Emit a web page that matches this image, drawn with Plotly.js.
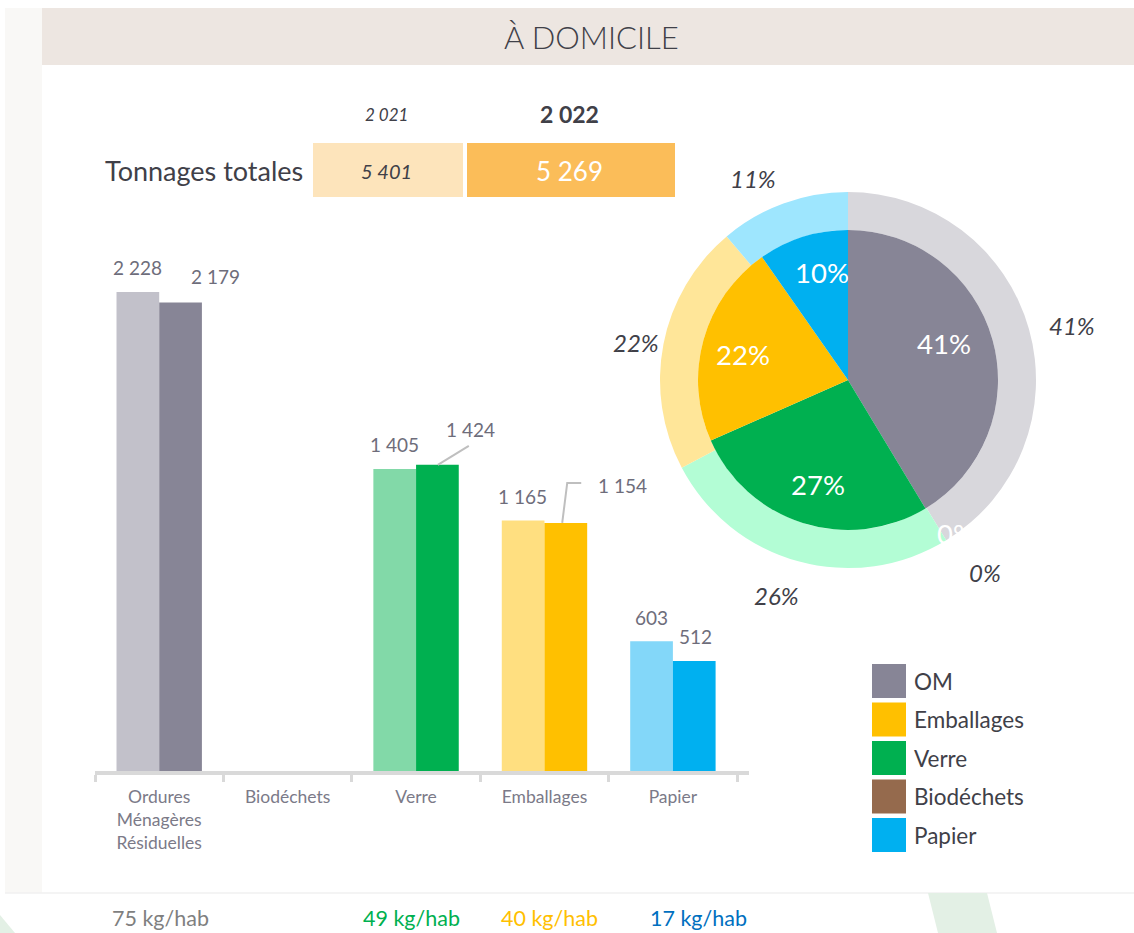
<!DOCTYPE html>
<html>
<head>
<meta charset="utf-8">
<script src="https://cdn.plot.ly/plotly-3.0.1.min.js"></script>
<style>html,body{margin:0;padding:0;background:#fff;}#chart{width:1134px;height:933px;}</style>
</head>
<body>
<div id="chart"></div>
<script>
// ---------- DATA ----------
const categories = ['Ordures<br>Ménagères<br>Résiduelles', 'Biodéchets', 'Verre', 'Emballages', 'Papier'];
const pieLabels = ['OM', 'Biodéchets', 'Verre', 'Emballages', 'Papier'];
const tons2021 = [2228, 0, 1405, 1165, 603];
const tons2022 = [2179, 0, 1424, 1154, 512];
const yearLabels = ['2 021', '2 022'];
const kgHab = [75, null, 49, 40, 17];
const legendLabels = ['OM', 'Emballages', 'Verre', 'Biodéchets', 'Papier'];
const titleText = 'À DOMICILE';
const tableLabel = 'Tonnages totales';

// ---------- STYLE ----------
const W = 1134, H = 933;
const FONT = 'Lato, "Open Sans", sans-serif';
const colors2021 = ['#c2c1ca', '#c9a98f', '#82d9a8', '#ffdf80', '#83d7f9'];
const colors2022 = ['#878596', '#956a4d', '#00b050', '#ffc000', '#00b0f0'];
const outerColors = ['#d8d7dc', '#c9a98f', '#b3fdd5', '#ffe699', '#9ee6fe'];
const legendColors = ['#878596', '#ffc000', '#00b050', '#956a4d', '#00b0f0'];
const kgColors = ['#7f7f7f', '#7f7f7f', '#00b050', '#ffc000', '#0070c0'];
const kgShift = [1.6, 0, -4.8, 5.4, 25.6];
const lab2022Shift = [[35, 26], [0, 0], [33, 35], [56, 37], [1, 24]];
// label placement tweaks (degrees / pixels)
const innerAngShift = [-5.4, -4, -1.7, -2.2, 4];
const innerRad = [103, 188, 109, 108, 111];
const outerAngShift = [2, -4, 3, -1, -5];
const outerRad = [231, 236, 227, 215, 223];
const dark = '#404048';
const labelColor = '#6e6d7b';

const px = x => x / W;
const py = y => 1 - y / H;
const fmt = n => String(n).replace(/\B(?=(\d{3})+(?!\d))/g, ' ');

// bar area geometry
const baseY = 771, topY = 230, pxPerUnit = 0.215;
const axL = 95, axR = 749;
const BARGAP = 0.335;
const barOff = ((axR - axL) / 5) * (1 - BARGAP) / 4;

// pie geometry
const cx = 848, cy = 380, Ro = 188, Ri = 150;

const traces = [
  {type: 'bar', x: categories, y: tons2021, marker: {color: colors2021}, hoverinfo: 'none', name: '2021'},
  {type: 'bar', x: categories, y: tons2022, marker: {color: colors2022}, hoverinfo: 'none', name: '2022'},
  {type: 'pie', values: tons2021, labels: pieLabels, hole: Ri / Ro, sort: false, direction: 'clockwise', rotation: 0,
   domain: {x: [px(cx - Ro), px(cx + Ro)], y: [py(cy + Ro), py(cy - Ro)]},
   marker: {colors: outerColors, line: {width: 0}}, textinfo: 'none', hoverinfo: 'none', showlegend: false},
  {type: 'pie', values: tons2022, labels: pieLabels, sort: false, direction: 'clockwise', rotation: 0,
   domain: {x: [px(cx - Ri), px(cx + Ri)], y: [py(cy + Ri), py(cy - Ri)]},
   marker: {colors: colors2022, line: {width: 0}}, textinfo: 'none', hoverinfo: 'none', showlegend: false}
];

const shapes = [];
const annotations = [];

// background decorations
shapes.push({type: 'rect', xref: 'paper', yref: 'paper', x0: px(5), x1: px(42), y0: py(893), y1: py(8), fillcolor: '#f9f8f6', line: {width: 0}, layer: 'below'});
shapes.push({type: 'rect', xref: 'paper', yref: 'paper', x0: px(42), x1: px(1134), y0: py(65), y1: py(8), fillcolor: '#ede6e1', line: {width: 0}, layer: 'below'});
shapes.push({type: 'line', xref: 'paper', yref: 'paper', x0: px(5), x1: px(1134), y0: py(893), y1: py(893), line: {color: '#f0f0f0', width: 1.5}, layer: 'below'});
shapes.push({type: 'path', xref: 'paper', yref: 'paper', layer: 'below', fillcolor: '#e3f0e5', line: {width: 0},
  path: `M${px(928)},${py(893)} L${px(987)},${py(893)} L${px(997)},${py(933)} L${px(938)},${py(933)} Z`});
shapes.push({type: 'path', xref: 'paper', yref: 'paper', layer: 'below', fillcolor: '#e3f0e5', line: {width: 0},
  path: `M${px(0)},${py(915)} L${px(15)},${py(933)} L${px(0)},${py(933)} Z`});

// title
annotations.push({xref: 'paper', yref: 'paper', x: px(591), y: py(37), text: titleText, showarrow: false,
  font: {family: FONT, size: 31, color: dark, weight: 300}, xanchor: 'center', yanchor: 'middle'});

// tonnage table
const total2021 = tons2021.reduce((a, b) => a + b, 0);
const total2022 = tons2022.reduce((a, b) => a + b, 0);
shapes.push({type: 'rect', xref: 'paper', yref: 'paper', x0: px(313), x1: px(463), y0: py(197), y1: py(143), fillcolor: '#fde4bb', line: {width: 0}, layer: 'below'});
shapes.push({type: 'rect', xref: 'paper', yref: 'paper', x0: px(467), x1: px(675), y0: py(197), y1: py(143), fillcolor: '#fbbd59', line: {width: 0}, layer: 'below'});
annotations.push({xref: 'paper', yref: 'paper', x: px(305), y: py(171), text: tableLabel, showarrow: false, xanchor: 'right', yanchor: 'middle',
  font: {family: FONT, size: 27, color: dark}});
annotations.push({xref: 'paper', yref: 'paper', x: px(386), y: py(171), text: '<i>' + fmt(total2021) + '</i>', showarrow: false,
  xanchor: 'center', yanchor: 'middle', font: {family: FONT, size: 20, color: dark}});
annotations.push({xref: 'paper', yref: 'paper', x: px(569), y: py(171), text: fmt(total2022), showarrow: false,
  xanchor: 'center', yanchor: 'middle', font: {family: FONT, size: 26, color: '#ffffff'}});
annotations.push({xref: 'paper', yref: 'paper', x: px(386), y: py(114), text: '<i>' + yearLabels[0] + '</i>', showarrow: false,
  xanchor: 'center', yanchor: 'middle', font: {family: FONT, size: 17, color: dark}});
annotations.push({xref: 'paper', yref: 'paper', x: px(569), y: py(114), text: '<b>' + yearLabels[1] + '</b>', showarrow: false,
  xanchor: 'center', yanchor: 'middle', font: {family: FONT, size: 23, color: dark}});

// bar labels
categories.forEach((c, i) => {
  if (tons2021[i] > 0) {
    annotations.push({x: c, y: tons2021[i], xref: 'x', yref: 'y', text: fmt(tons2021[i]), showarrow: false,
      xshift: -barOff, yshift: 24, yanchor: 'middle', font: {family: FONT, size: 19, color: labelColor}});
  }
  if (tons2022[i] > 0) {
    annotations.push({x: c, y: tons2022[i], xref: 'x', yref: 'y', text: fmt(tons2022[i]), showarrow: false,
      xshift: barOff + lab2022Shift[i][0], yshift: lab2022Shift[i][1], yanchor: 'middle', font: {family: FONT, size: 19, color: labelColor}});
  }
});
// leader lines
shapes.push({type: 'path', xref: 'x', yref: 'y', xsizemode: 'pixel', ysizemode: 'pixel', xanchor: categories[2], yanchor: tons2022[2],
  path: `M${barOff},0 L${barOff + 31},19`, line: {color: '#bfbfbf', width: 2}});
shapes.push({type: 'path', xref: 'x', yref: 'y', xsizemode: 'pixel', ysizemode: 'pixel', xanchor: categories[3], yanchor: tons2022[3],
  path: `M${barOff - 4},0 L${barOff + 1},40 L${barOff + 15},40`, line: {color: '#bfbfbf', width: 2}});

// kg/hab
categories.forEach((c, i) => {
  if (kgHab[i] != null) {
    annotations.push({x: c, xref: 'x', yref: 'paper', y: py(918), text: kgHab[i] + ' kg/hab', showarrow: false,
      xshift: kgShift[i], yanchor: 'middle', font: {family: FONT, size: 21.5, color: kgColors[i]}});
  }
});

// pie labels
function pieLabelsAnn(vals, radii, fontSpec, italic, angShift) {
  const sum = vals.reduce((a, b) => a + b, 0);
  let cum = 0;
  vals.forEach((v, i) => {
    const f = v / sum;
    const mid = (cum + f / 2) * 2 * Math.PI + angShift[i] * Math.PI / 180;
    cum += f;
    const r = radii[i];
    const x = cx + r * Math.sin(mid), y = cy - r * Math.cos(mid);
    const t = Math.round(f * 100) + '%';
    annotations.push({xref: 'paper', yref: 'paper', x: px(x), y: py(y), text: italic ? '<i>' + t + '</i>' : t,
      showarrow: false, xanchor: 'center', yanchor: 'middle', font: fontSpec});
  });
}
pieLabelsAnn(tons2022, innerRad, {family: FONT, size: 27.5, color: '#ffffff'}, false, innerAngShift);
pieLabelsAnn(tons2021, outerRad, {family: FONT, size: 24, color: dark}, true, outerAngShift);

// legend
legendLabels.forEach((l, i) => {
  const yc = 681 + i * 38.5;
  shapes.push({type: 'rect', xref: 'paper', yref: 'paper', x0: px(872), x1: px(906), y0: py(yc + 17), y1: py(yc - 17),
    fillcolor: legendColors[i], line: {width: 0}});
  annotations.push({xref: 'paper', yref: 'paper', x: px(912), y: py(yc), text: l, showarrow: false, xanchor: 'left', yanchor: 'middle',
    font: {family: FONT, size: 22.5, color: dark}});
});

const layout = {
  width: W, height: H, autosize: false,
  margin: {l: 0, r: 0, t: 0, b: 0},
  paper_bgcolor: '#ffffff', plot_bgcolor: 'rgba(0,0,0,0)',
  showlegend: false, barmode: 'group', bargap: BARGAP, bargroupgap: 0,
  xaxis: {domain: [px(axL), px(axR)], type: 'category', showline: true, linecolor: '#d9d9d9', linewidth: 4,
    ticks: 'outside', tickson: 'boundaries', ticklen: 7, tickwidth: 3, tickcolor: '#d9d9d9', ticklabelstandoff: 7,
    tickfont: {family: FONT, size: 17.5, color: '#7b7a88'}, showgrid: false, zeroline: false, fixedrange: true},
  yaxis: {domain: [py(baseY), py(topY)], range: [0, (baseY - topY) / pxPerUnit], visible: false, fixedrange: true},
  shapes: shapes, annotations: annotations
};

Plotly.newPlot('chart', traces, layout, {displayModeBar: false, staticPlot: true});
</script>
</body>
</html>
